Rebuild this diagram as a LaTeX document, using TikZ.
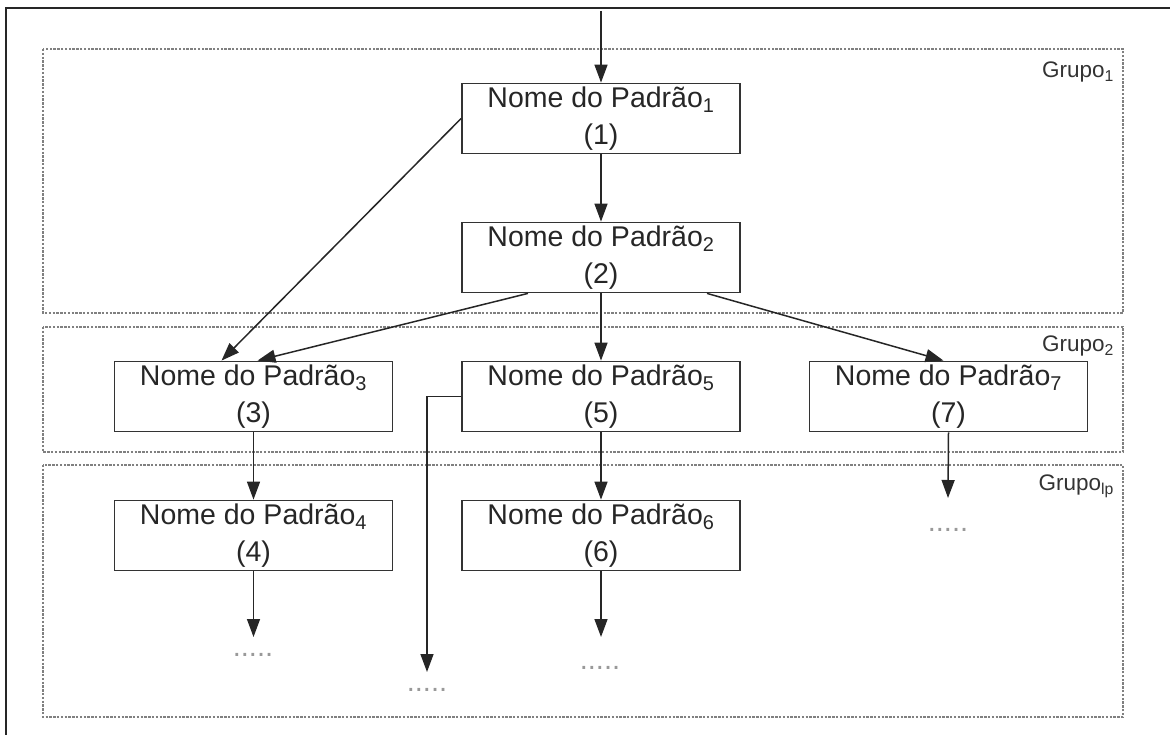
\documentclass[tikz,border=0pt]{standalone}
\usepackage{fontspec}
\setmainfont{Liberation Sans}
\usetikzlibrary{arrows.meta,calc}

\tikzset{
  pbox/.style={draw=black!80, line width=1.8pt, minimum width=278pt, minimum height=70pt,
    inner sep=0pt, align=center, text=black!85,
    font=\fontsize{28.5}{37}\selectfont},
  grp/.style={draw=black!50, line width=2.8pt, dash pattern=on 2.4pt off 1.4pt},
  grplabel/.style={anchor=base east, inner sep=0pt, text=black!80,
    font=\fontsize{22.5}{25}\selectfont},
  conn/.style={draw=black!85, line width=1.5pt, -{Triangle[length=18pt,width=13pt]}},
  more/.style={inner sep=0pt, text=gray!80, font=\fontsize{29}{30}\selectfont},
}

\begin{document}
\begin{tikzpicture}[x=1pt,y=-1pt]
\useasboundingbox (0,0) rectangle (1170,735);

% outer frame (top and left edges)
\draw[black!85, line width=1.4pt] (6,735) -- (6,8) -- (1170,8);

% group frames
\draw[grp] (43,49) rectangle (1123,313);
\draw[grp] (43,327) rectangle (1123,452);
\draw[grp] (43,465) rectangle (1123,717);
\node[grplabel] (g1) at (1114,78) {Grupo\textsubscript{1}};
\node[grplabel] (g2) at (1114,352) {Grupo\textsubscript{2}};
\node[grplabel] (g3) at (1114,490) {Grupo\textsubscript{lp}};

% pattern boxes
\node[pbox] (b1) at (601,118.5) {Nome do Padrão\textsubscript{1}\\(1)};
\node[pbox] (b2) at (601,257.5) {Nome do Padrão\textsubscript{2}\\(2)};
\node[pbox] (b3) at (253.5,396.5) {Nome do Padrão\textsubscript{3}\\(3)};
\node[pbox] (b5) at (601,396.5) {Nome do Padrão\textsubscript{5}\\(5)};
\node[pbox] (b7) at (948.5,396.5) {Nome do Padrão\textsubscript{7}\\(7)};
\node[pbox] (b4) at (253.5,535.5) {Nome do Padrão\textsubscript{4}\\(4)};
\node[pbox] (b6) at (601,535.5) {Nome do Padrão\textsubscript{6}\\(6)};

% continuation marks
\node[more] (d4) at (253,655) {.....};
\node[more] (d6) at (600,668) {.....};
\node[more] (d5) at (427,690) {.....};
\node[more] (d7) at (948,530) {.....};

% free ends of connectors
\coordinate (in) at (601,11);
\coordinate (e4) at (253.5,637);
\coordinate (e6) at (601,637);
\coordinate (e5) at (427,672);
\coordinate (e7) at (948,498);

% connectors
\draw[conn] (in) -- (b1.north);
\draw[conn] (b1.south) -- (b2.north);
\draw[conn] (b1.west) -- ($(b3.north)+(-32,0)$);
\draw[conn] ($(b2.south)+(-73,0)$) -- ($(b3.north)+(4,0)$);
\draw[conn] (b2.south) -- (b5.north);
\draw[conn] ($(b2.south)+(106,0)$) -- ($(b7.north)+(-5,0)$);
\draw[conn] (b3.south) -- (b4.north);
\draw[conn] (b5.south) -- (b6.north);
\draw[conn] (b5.west) -| (e5);
\draw[conn] (b7.south) -- (e7);
\draw[conn] (b4.south) -- (e4);
\draw[conn] (b6.south) -- (e6);
\end{tikzpicture}
\end{document}
